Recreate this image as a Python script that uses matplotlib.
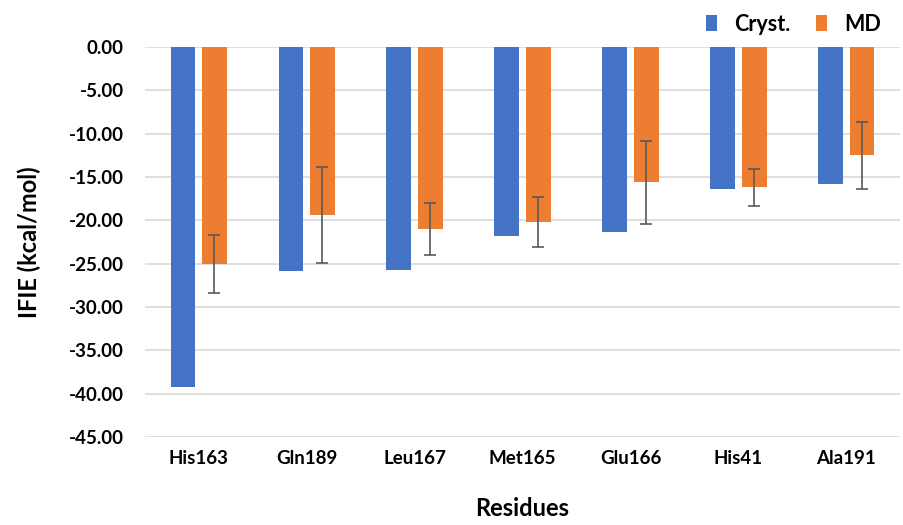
import numpy as np
import matplotlib.pyplot as plt

residues = ["His163", "Gln189", "Leu167", "Met165", "Glu166", "His41", "Ala191"]
cryst = [-39.2, -25.9, -25.7, -21.8, -21.4, -16.4, -15.8]
md = [-25.05, -19.4, -21.0, -20.2, -15.6, -16.2, -12.5]
md_err = [3.35, 5.55, 3.0, 2.9, 4.8, 2.15, 3.85]

plt.rcParams['font.family'] = ['Lato', 'DejaVu Sans']
plt.rcParams['font.weight'] = 'bold'

fig = plt.figure(figsize=(9.04, 5.25), dpi=100)
ax = fig.add_axes([0.160, 0.1676, 0.836, 0.7429])

x = np.arange(len(residues))
w = 0.23
ax.bar(x - 0.145, cryst, w, color="#4472C4", label="Cryst.", zorder=2)
ax.bar(x + 0.145, md, w, color="#ED7D31", label="MD", zorder=2)
ax.errorbar(x + 0.145, md, yerr=md_err, fmt="none", ecolor="#595959",
            elinewidth=1.2, capsize=4, capthick=1.2, zorder=3)

ax.set_xlim(-0.5, len(residues) - 0.5)
ax.set_ylim(-45, 0)
ax.set_yticks(np.arange(-45, 0.1, 5))
ax.set_yticklabels([f"{v:.2f}" for v in np.arange(-45, 0.1, 5)])
ax.set_xticks(x)
ax.set_xticklabels(residues)
ax.tick_params(length=0, labelsize=13.5, pad=9)
ax.tick_params(axis='y', pad=15)
ax.grid(axis='y', color="#d9d9d9", linewidth=1.2, zorder=0)
ax.set_axisbelow(True)
for s in ax.spines.values():
    s.set_visible(False)

ax.set_ylabel("IFIE (kcal/mol)", fontsize=17, fontweight='bold', labelpad=20)
ax.set_xlabel("Residues", fontsize=17, fontweight='bold', labelpad=22)

ax.legend(loc="upper right", bbox_to_anchor=(1.0, 1.135), ncol=2, frameon=False,
          fontsize=15.5, handlelength=0.5, handleheight=0.8, columnspacing=1.2,
          handletextpad=0.8)

fig.savefig("out.png", dpi=100)
